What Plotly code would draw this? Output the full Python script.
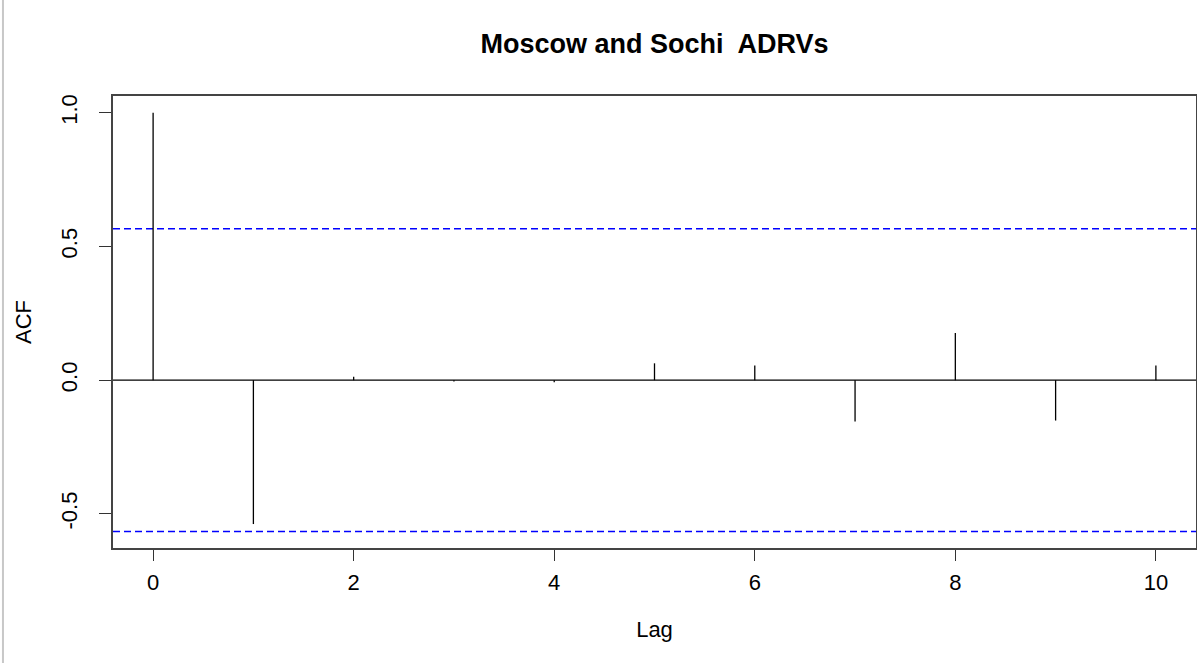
import plotly.graph_objects as go

lags = [0, 1, 2, 3, 4, 5, 6, 7, 8, 9, 10]
acf_values = [1.0, -0.538, 0.013, -0.005, -0.008, 0.063, 0.055, -0.155, 0.176, -0.151, 0.055]
conf_limit = 0.566
x_range = [-0.4, 10.4]
y_range = [-0.6276, 1.0626]
x_ticks = [0, 2, 4, 6, 8, 10]
y_ticks = [-0.5, 0.0, 0.5, 1.0]
y_tick_labels = ['-0.5', '0.0', '0.5', '1.0']

FONT = 'Liberation Sans, Arial, sans-serif'

# one vertical spike per lag, joined in a single trace with gaps
spike_x, spike_y = [], []
for lag, val in zip(lags, acf_values):
    spike_x += [lag, lag, None]
    spike_y += [0, val, None]

fig = go.Figure()

# zero line
fig.add_trace(go.Scatter(
    x=x_range, y=[0, 0], mode='lines',
    line=dict(color='#000000', width=1.2),
    showlegend=False, hoverinfo='skip'
))
# blue confidence bounds
for lim in (conf_limit, -conf_limit):
    fig.add_trace(go.Scatter(
        x=x_range, y=[lim, lim], mode='lines',
        line=dict(color='#0000ff', width=1.4, dash='7px,4px'),
        showlegend=False, hoverinfo='skip'
    ))
fig.add_trace(go.Scatter(
    x=spike_x, y=spike_y, mode='lines',
    line=dict(color='#000000', width=1.3),
    showlegend=False, hoverinfo='skip'
))

# thin grey border at the far left of the screenshot
fig.add_shape(type='line', xref='paper', yref='paper',
              x0=-0.1016, x1=-0.1016, y0=-0.26, y1=1.22,
              line=dict(color='#c8c8c8', width=2))

fig.update_layout(
    width=1197,
    height=663,
    margin=dict(l=113, r=1, t=96, b=115, autoexpand=False),
    paper_bgcolor='white',
    plot_bgcolor='white',
    font=dict(family=FONT, size=22, color='#000000'),
    title=dict(
        text='<b>Moscow and Sochi  ADRVs</b>',
        font=dict(family=FONT, size=27, color='#000000'),
        x=0.5, xref='paper', xanchor='center',
        y=1 - 44 / 663, yref='container', yanchor='middle'
    ),
    xaxis=dict(
        range=x_range,
        tickvals=x_ticks,
        ticks='outside', ticklen=11, tickwidth=1, tickcolor='#333333',
        showgrid=False, zeroline=False, automargin=False,
        showline=True, mirror=True, linecolor='#444444', linewidth=1.5,
        ticklabelstandoff=3,
        title=dict(text='Lag', standoff=27, font=dict(size=22))
    ),
    yaxis=dict(
        range=y_range,
        tickvals=y_ticks,
        ticktext=y_tick_labels,
        tickangle=-90,
        ticks='outside', ticklen=12, tickwidth=1, tickcolor='#333333',
        showgrid=False, zeroline=False, automargin=False,
        showline=True, mirror=True, linecolor='#444444', linewidth=1.5,
        ticklabelstandoff=13,
        title=dict(text='ACF', standoff=20, font=dict(size=22))
    )
)

# drop the default 8px body margin so the figure fills the window exactly
fig.write_html('out.html', config={'displayModeBar': False},
               post_script="document.body.style.margin='0';")
